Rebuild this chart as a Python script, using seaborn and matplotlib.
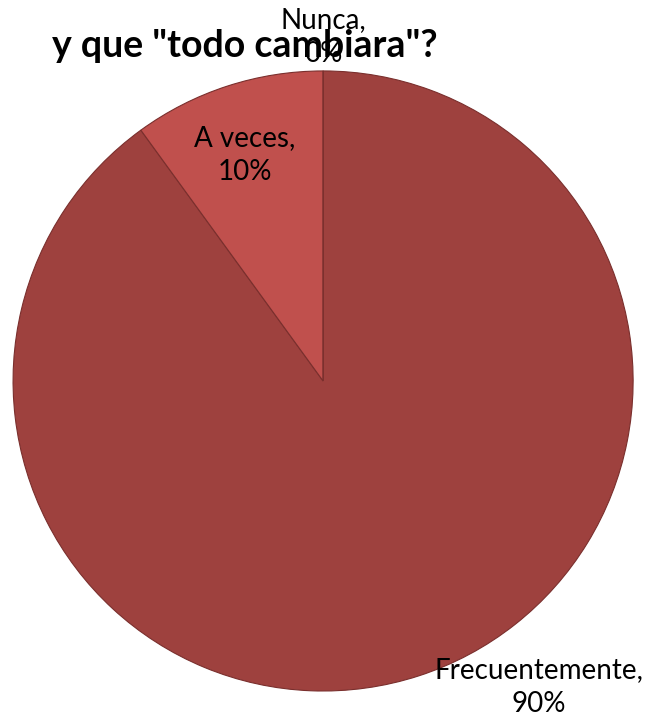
import matplotlib
matplotlib.use("Agg")
import matplotlib.pyplot as plt
import seaborn as sns
import numpy as np

categories = ["Frecuentemente", "A veces", "Nunca"]
values = [90, 10, 0]
colors = ["#9E413E", "#C0504D", "#C0504D"]
title = 'y que "todo cambiara"?'

sns.set_theme(style="white")
plt.rcParams['font.family'] = ['Lato', 'DejaVu Sans']

fig = plt.figure(figsize=(6.48, 7.21), dpi=100)
ax = fig.add_axes([0.0201, 0.0416, 0.957, 0.860])
wedges, _ = ax.pie(values, colors=colors, startangle=90, counterclock=False,
                   wedgeprops=dict(edgecolor="#7A2F2D", linewidth=0.8), radius=1.0)
ax.set_xlim(-1, 1)
ax.set_ylim(-1, 1)
ax.set_aspect('equal')
ax.axis('off')

fig.text(0.378, 0.936, title, ha="center", va="center", fontsize=27,
         fontweight="bold", color="black")

label_pos = [(0.697, -0.987), (-0.252, 0.729), (0.0, 1.11)]
for cat, v, (x, y) in zip(categories, values, label_pos):
    ax.text(x, y, f"{cat},\n{v}%", ha="center", va="center", fontsize=20,
            color="black", linespacing=1.4, clip_on=False)

fig.savefig("out.png", dpi=100)
